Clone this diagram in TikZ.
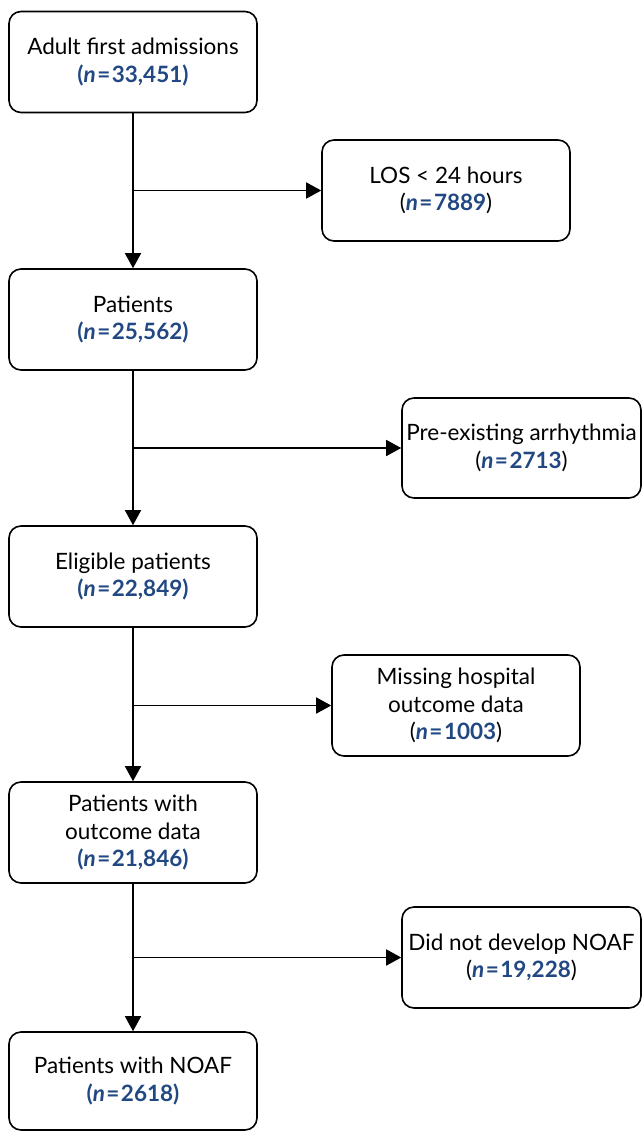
\documentclass[tikz,border=0pt]{standalone}
\usepackage{fontspec}
\setmainfont{Lato}
\usetikzlibrary{arrows.meta}
\definecolor{nblue}{RGB}{33,72,130}
\newcommand{\nb}[1]{\textcolor{nblue}{\textbf{(\textit{n}\kern1.5pt=\kern1.5pt#1)}}}
\newcommand{\nr}[1]{(\textcolor{nblue}{\textbf{\textit{n}\kern1.5pt=\kern1.5pt#1}})}
\tikzset{
  box/.style={draw, line width=1.6pt, rounded corners=12pt, align=center, inner sep=1pt,
    font=\fontsize{22.5}{27.5}\selectfont},
  lbox/.style={box, minimum width=248pt, minimum height=101pt},
  arr/.style={line width=1.6pt, -{Triangle[length=15pt,width=16pt]}}
}
\begin{document}
\begin{tikzpicture}[x=1pt,y=-1pt]
\useasboundingbox (0,0) rectangle (642,1131);
\node[lbox] (a) at (133,62) {Adult first admissions\\\nb{33,451}};
\node[lbox] (b) at (133,319.5) {Patients\\\nb{25,562}};
\node[lbox] (c) at (133,576.5) {Eligible patients\\\nb{22,849}};
\node[lbox] (d) at (133,832.5) {Patients with\\outcome data\\\nb{21,846}};
\node[lbox, minimum height=98pt] (e) at (133,1081) {Patients with NOAF\\\nb{2618}};
\node[box, minimum width=248pt, minimum height=101pt] (r1) at (446,190.5) {LOS < 24 hours\\\nr{7889}};
\node[box, minimum width=239pt, minimum height=100pt] (r2) at (521.5,448) {Pre-existing arrhythmia\\\nr{2713}};
\node[box, minimum width=248pt, minimum height=101pt] (r3) at (456,705.5) {Missing hospital\\outcome data\\\nr{1003}};
\node[box, minimum width=239pt, minimum height=101pt] (r4) at (521.5,957.5) {Did not develop NOAF\\\nr{19,228}};
\coordinate (j1) at (a.south |- r1.west);
\coordinate (j2) at (b.south |- r2.west);
\coordinate (j3) at (c.south |- r3.west);
\coordinate (j4) at (d.south |- r4.west);
\draw[arr] (a.south) -- (b.north);
\draw[arr] (b.south) -- (c.north);
\draw[arr] (c.south) -- (d.north);
\draw[arr] (d.south) -- (e.north);
\draw[arr] (j1) -- (r1.west);
\draw[arr] (j2) -- (r2.west);
\draw[arr] (j3) -- (r3.west);
\draw[arr] (j4) -- (r4.west);
\end{tikzpicture}
\end{document}
